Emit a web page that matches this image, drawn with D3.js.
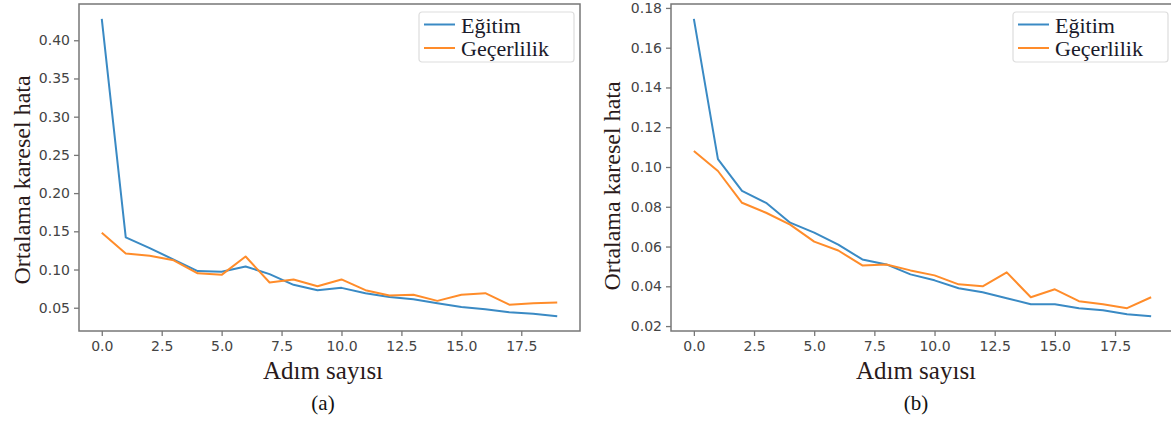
<!DOCTYPE html>
<html>
<head>
<meta charset="utf-8">
<script src="https://cdn.jsdelivr.net/npm/d3@7"></script>
<style>
  body { margin: 0; background: #fff; }
  svg { display: block; }
</style>
</head>
<body>
<div class="canvas"></div>
<script>
// data
const steps = [0, 1, 2, 3, 4, 5, 6, 7, 8, 9, 10, 11, 12, 13, 14, 15, 16, 17, 18, 19];

const trainA = [0.428, 0.142, 0.128, 0.113, 0.098, 0.097, 0.104, 0.094, 0.080, 0.073,
                0.076, 0.069, 0.064, 0.061, 0.056, 0.051, 0.048, 0.044, 0.042, 0.039];
const validA = [0.148, 0.121, 0.118, 0.112, 0.095, 0.093, 0.117, 0.083, 0.087, 0.078,
                0.087, 0.073, 0.066, 0.067, 0.059, 0.067, 0.069, 0.054, 0.056, 0.057];

const trainB = [0.1745, 0.104, 0.088, 0.082, 0.072, 0.067, 0.061, 0.0535, 0.051, 0.046,
                0.043, 0.039, 0.037, 0.034, 0.031, 0.031, 0.029, 0.028, 0.026, 0.025];
const validB = [0.108, 0.098, 0.082, 0.077, 0.071, 0.0625, 0.058, 0.0505, 0.051, 0.048,
                0.0455, 0.041, 0.040, 0.047, 0.0345, 0.0385, 0.0325, 0.031, 0.029, 0.0345];

const xTicks = [0, 2.5, 5, 7.5, 10, 12.5, 15, 17.5];
const yTicksA = [0.05, 0.10, 0.15, 0.20, 0.25, 0.30, 0.35, 0.40];
const yTicksB = [0.02, 0.04, 0.06, 0.08, 0.10, 0.12, 0.14, 0.16, 0.18];

const seriesNames = ['Eğitim', 'Geçerlilik'];
const panelLabels = ['(a)', '(b)'];
const xTitle = 'Adım sayısı';
const yTitle = 'Ortalama karesel hata';

const colors = ['#3a8ac4', '#ff8c2a'];

const svg = d3.select('.canvas')
  .append('svg')
  .attr('width', 1171)
  .attr('height', 421);

svg.append('rect').attr('width', 1171).attr('height', 421).attr('fill', '#fff');

// panel frames (pixel boxes of the axes)
const panels = [
  {left: 79, right: 580, top: 4, bottom: 331, series: [trainA, validA], yTicks: yTicksA,
   yFmt: d3.format('.2f'), yLabelX: 30, yLabelY: 180, xLabelX: 323, legendX: 419, label: panelLabels[0]},
  {left: 671, right: 1174, top: 4, bottom: 331, series: [trainB, validB], yTicks: yTicksB,
   yFmt: d3.format('.2f'), yLabelX: 620, yLabelY: 186, xLabelX: 916, legendX: 1013, label: panelLabels[1]}
];

const serif = '"Liberation Serif", "Times New Roman", serif';

panels.forEach(p => {
  const all = p.series.flat();
  const lo = d3.min(all), hi = d3.max(all);
  const pad = (hi - lo) * 0.05;

  const x = d3.scaleLinear()
    .domain([-0.95, 19.95])
    .range([p.left, p.right]);
  const y = d3.scaleLinear()
    .domain([lo - pad, hi + pad])
    .range([p.bottom, p.top]);

  const g = svg.append('g');

  // lines
  const line = d3.line()
    .x((d, i) => x(steps[i]))
    .y(d => y(d));

  p.series.forEach((s, i) => {
    g.append('path')
      .datum(s)
      .attr('d', line)
      .attr('fill', 'none')
      .attr('stroke', colors[i])
      .attr('stroke-width', 2)
      .attr('stroke-linejoin', 'round');
  });

  // axes
  const xAxis = d3.axisBottom(x)
    .tickValues(xTicks)
    .tickFormat(d3.format('.1f'))
    .tickSize(5)
    .tickPadding(5);
  const yAxis = d3.axisLeft(y)
    .tickValues(p.yTicks)
    .tickFormat(p.yFmt)
    .tickSize(5)
    .tickPadding(4);

  const xg = g.append('g')
    .attr('transform', `translate(0,${p.bottom})`)
    .call(xAxis);
  const yg = g.append('g')
    .attr('transform', `translate(${p.left},0)`)
    .call(yAxis);

  [xg, yg].forEach(a => {
    a.select('.domain').remove();
    a.selectAll('line').attr('stroke', '#777').attr('stroke-width', 1.3);
    a.selectAll('text')
      .attr('fill', '#444')
      .style('font-family', '"DejaVu Sans", sans-serif')
      .style('font-size', '14px');
  });

  // frame
  g.append('rect')
    .attr('x', p.left)
    .attr('y', p.top)
    .attr('width', p.right - p.left)
    .attr('height', p.bottom - p.top)
    .attr('fill', 'none')
    .attr('stroke', '#777')
    .attr('stroke-width', 1.5);

  // legend
  const lg = g.append('g').attr('transform', `translate(${p.legendX},12)`);
  lg.append('rect')
    .attr('width', 155)
    .attr('height', 50)
    .attr('rx', 3)
    .attr('fill', '#fff')
    .attr('stroke', '#ddd')
    .attr('stroke-width', 1.2);
  seriesNames.forEach((name, i) => {
    const cy = 12.5 + i * 23.5;
    lg.append('line')
      .attr('x1', 5).attr('x2', 36)
      .attr('y1', cy).attr('y2', cy)
      .attr('stroke', colors[i])
      .attr('stroke-width', 2);
    lg.append('text')
      .attr('x', 42)
      .attr('y', cy + 8)
      .text(name)
      .attr('fill', '#1a1a2a')
      .style('font-family', serif)
      .style('font-size', '22px');
  });

  // titles
  svg.append('text')
    .attr('transform', `translate(${p.yLabelX},${p.yLabelY}) rotate(-90)`)
    .attr('text-anchor', 'middle')
    .text(yTitle)
    .attr('fill', '#2a1a1a')
    .style('font-family', serif)
    .style('font-size', '24px');

  svg.append('text')
    .attr('x', p.xLabelX)
    .attr('y', 379)
    .attr('text-anchor', 'middle')
    .text(xTitle)
    .attr('fill', '#2a1a1a')
    .style('font-family', serif)
    .style('font-size', '25px');

  svg.append('text')
    .attr('x', p.xLabelX)
    .attr('y', 410)
    .attr('text-anchor', 'middle')
    .text(p.label)
    .attr('fill', '#111')
    .style('font-family', serif)
    .style('font-size', '21px');
});
</script>
</body>
</html>
